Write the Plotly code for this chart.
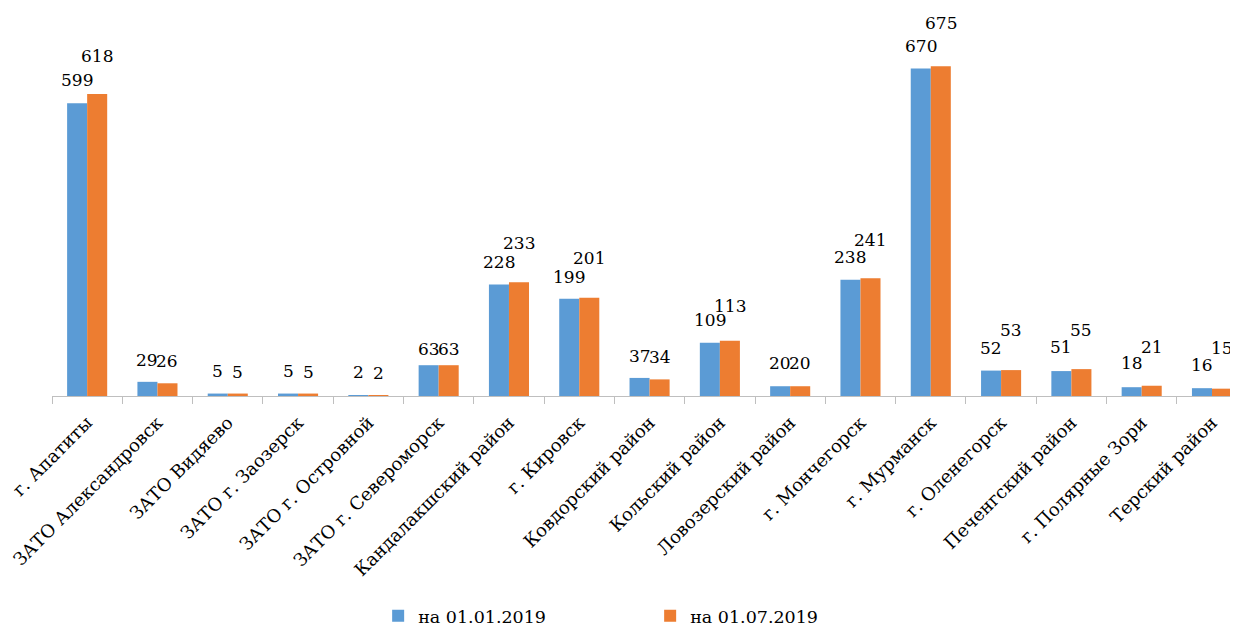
import plotly.graph_objects as go

categories = [
    "г. Апатиты", "ЗАТО Александровск", "ЗАТО Видяево", "ЗАТО г. Заозерск",
    "ЗАТО г. Островной", "ЗАТО г. Североморск", "Кандалакшский район",
    "г. Кировск", "Ковдорский район", "Кольский район", "Ловозерский район",
    "г. Мончегорск", "г. Мурманск", "г. Оленегорск", "Печенгский район",
    "г. Полярные Зори", "Терский район",
]
series_names = ["на 01.01.2019", "на 01.07.2019"]
values_jan = [599, 29, 5, 5, 2, 63, 228, 199, 37, 109, 20, 238, 670, 52, 51, 18, 16]
values_jul = [618, 26, 5, 5, 2, 63, 233, 201, 34, 113, 20, 241, 675, 53, 55, 21, 15]

# label placement (pixels above bar top), styling only
lift_jan = [23, 22, 23, 23, 23, 16, 23, 22, 22, 23, 23, 23, 23, 23, 24, 24, 23]
lift_jul = [38, 22, 22, 22, 22, 16, 39, 40, 22, 35, 23, 38, 43, 40, 39, 39, 41]

BLUE = "#5B9BD5"
ORANGE = "#ED7D31"
FONT = "DejaVu Serif"

fig = go.Figure()
fig.add_trace(go.Bar(x=categories, y=values_jan, name=series_names[0],
                     marker=dict(color=BLUE, line=dict(width=0))))
fig.add_trace(go.Bar(x=categories, y=values_jul, name=series_names[1],
                     marker=dict(color=ORANGE, line=dict(width=0))))

annotations = []
for c, v, l in zip(categories, values_jan, lift_jan):
    annotations.append(dict(x=c, y=v, text=str(v), showarrow=False, xshift=-10,
                            yshift=l, yanchor="middle", xanchor="center",
                            font=dict(family=FONT, size=17, color="black")))
for c, v, l in zip(categories, values_jul, lift_jul):
    annotations.append(dict(x=c, y=v, text=str(v), showarrow=False, xshift=10,
                            yshift=l, yanchor="middle", xanchor="center",
                            font=dict(family=FONT, size=17, color="black")))

# page body has an 8px margin, so the figure is 8px smaller on each axis
fig.update_layout(
    width=1230, height=620,
    margin=dict(l=44, r=0, t=0, b=232, autoexpand=False),
    paper_bgcolor="white", plot_bgcolor="white",
    barmode="group", bargap=0.43, bargroupgap=0,
    font=dict(family=FONT, size=17, color="black"),
    showlegend=True,
    legend=dict(orientation="h", x=0.275, xanchor="left", y=-0.567, yanchor="middle",
                entrywidth=227, entrywidthmode="pixels",
                font=dict(family=FONT, size=17.5, color="black")),
    annotations=annotations,
    xaxis=dict(type="category", range=[-0.5, 16.37], tickangle=-45, automargin=False,
               showline=True, linecolor="#BFBFBF", linewidth=1,
               ticks="outside", tickson="boundaries", ticklen=7, tickcolor="#BFBFBF",
               ticklabelstandoff=8,
               showgrid=False, tickfont=dict(family=FONT, size=18, color="black")),
    yaxis=dict(range=[0, 794], visible=False, showgrid=False, zeroline=False),
)

fig.write_html("out.html")
